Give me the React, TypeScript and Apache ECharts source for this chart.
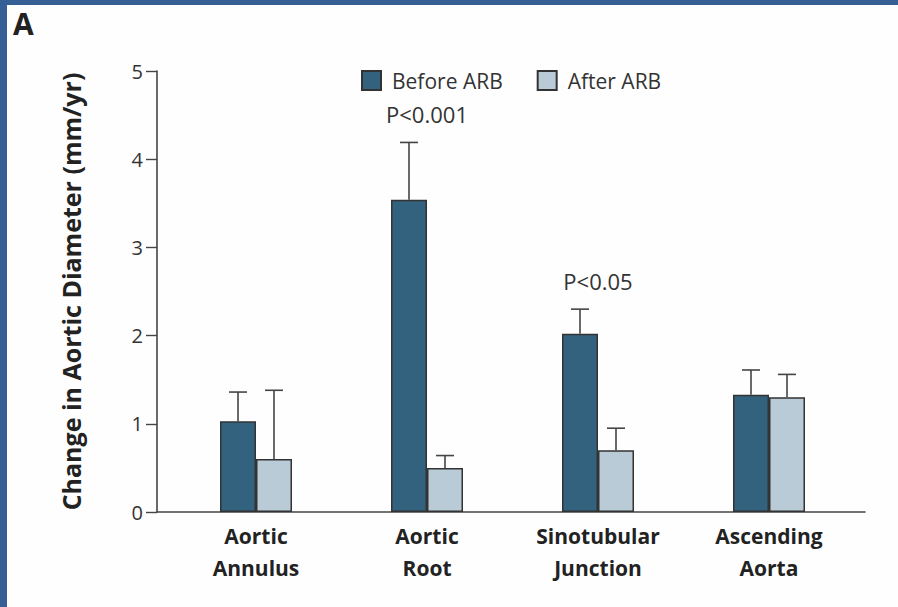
import React, { useEffect, useRef } from "react";
import * as echarts from "echarts";

const categories = ["Aortic\nAnnulus", "Aortic\nRoot", "Sinotubular\nJunction", "Ascending\nAorta"];
const beforeValues = [1.03, 3.54, 2.02, 1.33];
const afterValues = [0.6, 0.5, 0.7, 1.3];
const beforeErrorTop = [1.36, 4.19, 2.3, 1.61];
const afterErrorTop = [1.38, 0.64, 0.95, 1.56];
const pLabels = [
  { index: 1, text: "P<0.001" },
  { index: 2, text: "P<0.05" },
];
const yTicks = [0, 1, 2, 3, 4, 5];

const FONT = "'Open Sans', 'Noto Sans', sans-serif";
const BAR_W = 36;

export default function App() {
  const ref = useRef<HTMLDivElement>(null);
  useEffect(() => {
    document.body.style.margin = "0";
    const chart = echarts.init(ref.current!, null, { renderer: "svg" });

    const errSeries = (vals: number[], tops: number[], offset: number, name: string) => ({
      type: "custom",
      name: name + " err",
      xAxisIndex: 1,
      yAxisIndex: 1,
      z: 5,
      silent: true,
      data: vals.map((v, i) => [i, v, tops[i]]),
      renderItem: (params: any, api: any) => {
        const idx = api.value(0);
        const base = api.coord([idx, api.value(1)]);
        const top = api.coord([idx, api.value(2)]);
        const x = base[0] + offset;
        const style = { stroke: "#444", lineWidth: 1.6 };
        return {
          type: "group",
          children: [
            { type: "line", shape: { x1: x, y1: base[1], x2: x, y2: top[1] }, style },
            { type: "line", shape: { x1: x - 9, y1: top[1], x2: x + 9, y2: top[1] }, style },
          ],
        };
      },
    });

    chart.setOption({
      animation: false,
      backgroundColor: "#fefefe",
      textStyle: { fontFamily: FONT },
      grid: [
        { left: 157, right: 33, top: 71, bottom: 95 },
        { left: 170.5, right: 43.5, top: 71, bottom: 95 },
      ],
      legend: {
        data: ["Before ARB", "After ARB"],
        left: 356,
        top: 65,
        itemWidth: 19,
        itemHeight: 19,
        itemGap: 34,
        icon: "rect",
        textStyle: { fontFamily: FONT, fontSize: 21, color: "#333", padding: [0, 0, 0, 6] },
      },
      xAxis: [
        {
          type: "value",
          gridIndex: 0,
          min: 0,
          max: 1,
          axisLine: { show: true, lineStyle: { color: "#444", width: 1.6 } },
          axisTick: { show: false },
          axisLabel: { show: false },
          splitLine: { show: false },
        },
        {
          type: "category",
          gridIndex: 1,
          data: categories,
          axisLine: { show: false },
          axisTick: { show: false },
          axisLabel: {
            fontFamily: FONT,
            fontSize: 21,
            fontWeight: "bold",
            color: "#222",
            lineHeight: 32,
            margin: 8,
          },
        },
      ],
      yAxis: [
        {
          type: "value",
          gridIndex: 0,
          min: 0,
          max: 5,
          interval: 1,
          name: "Change in Aortic Diameter (mm/yr)",
          nameLocation: "middle",
          nameGap: 74,
          nameTextStyle: { fontFamily: FONT, fontSize: 25, fontWeight: "bold", color: "#222" },
          axisLine: { show: true, lineStyle: { color: "#444", width: 1.6 } },
          axisTick: { show: true, length: 11, lineStyle: { color: "#444", width: 1.4 } },
          axisLabel: {
            fontFamily: FONT,
            fontSize: 20,
            color: "#333",
            margin: 14,
            formatter: (v: number) => (yTicks.includes(v) ? String(v) : ""),
          },
          splitLine: { show: false },
        },
        {
          type: "value",
          gridIndex: 1,
          min: 0,
          max: 5,
          interval: 1,
          show: false,
          splitLine: { show: false },
        },
      ],
      series: [
        {
          type: "bar",
          name: "Before ARB",
          xAxisIndex: 1,
          yAxisIndex: 1,
          data: beforeValues,
          barWidth: BAR_W,
          barGap: "0%",
          itemStyle: { color: "#33627e", borderColor: "#333", borderWidth: 1.5 },
        },
        {
          type: "bar",
          name: "After ARB",
          xAxisIndex: 1,
          yAxisIndex: 1,
          data: afterValues,
          barWidth: BAR_W,
          barGap: "0%",
          itemStyle: { color: "#b9cbd7", borderColor: "#333", borderWidth: 1.5 },
        },
        errSeries(beforeValues, beforeErrorTop, -BAR_W / 2, "Before ARB"),
        errSeries(afterValues, afterErrorTop, BAR_W / 2, "After ARB"),
        {
          type: "custom",
          name: "pvalues",
          xAxisIndex: 1,
          yAxisIndex: 1,
          silent: true,
          data: pLabels.map((p) => [p.index, beforeErrorTop[p.index], p.text]),
          renderItem: (params: any, api: any) => {
            const pt = api.coord([api.value(0), api.value(1)]);
            const txt = pLabels[params.dataIndex].text;
            return {
              type: "text",
              x: pt[0],
              y: pt[1] - 17,
              style: {
                text: txt,
                fontFamily: FONT,
                fontSize: 22,
                fill: "#333",
                align: "center",
                verticalAlign: "bottom",
              },
            };
          },
        },
      ],
      graphic: [
        {
          type: "text",
          left: 13,
          top: 8,
          style: { text: "A", fontFamily: FONT, fontSize: 30, fontWeight: "bold", fill: "#222" },
        },
      ],
    });
    return () => chart.dispose();
  }, []);

  return (
    <div
      style={{
        width: 898,
        height: 607,
        boxSizing: "border-box",
        borderTop: "5px solid #355f95",
        borderLeft: "7px solid #355f95",
        background: "#fefefe",
        position: "relative",
        overflow: "hidden",
      }}
    >
      <div ref={ref} style={{ position: "absolute", left: -7, top: -5, width: 898, height: 607 }} />
    </div>
  );
}
